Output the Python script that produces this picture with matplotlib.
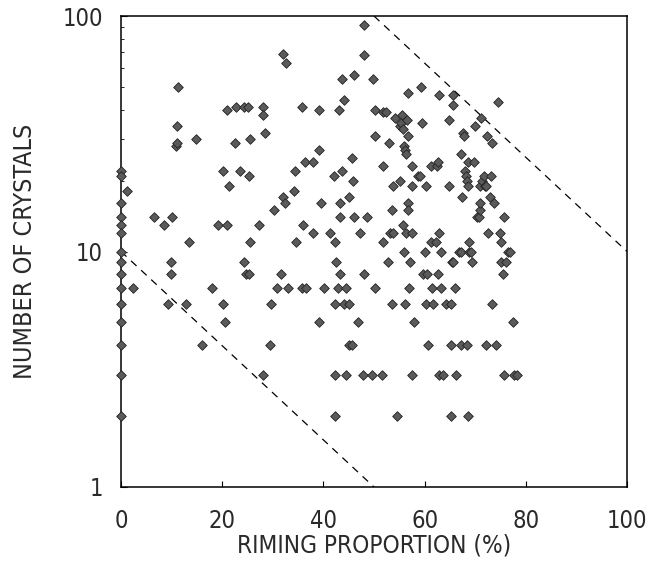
import matplotlib
matplotlib.use("Agg")
import matplotlib.pyplot as plt
from matplotlib import font_manager
from matplotlib.ticker import FixedLocator, LogLocator, NullFormatter

# Riming proportion (%) and number of crystals
riming = [0, 0, 0, 0, 0, 0, 0, 0, 0, 0, 0, 0, 0, 0, 0,
          1.1, 2.3, 6.6, 8.4, 10.1, 9.8, 9.8, 9.2, 11.3, 11.0, 10.8, 11.1, 14.8, 12.8, 13.5,
          16.0, 17.9, 19.1, 20.1, 20.9, 21.3, 21.0, 20.2, 20.5, 22.6, 22.8, 24.4, 25.1, 23.6,
          25.2, 25.4, 24.4, 24.8, 25.3, 25.5, 27.3, 28.1, 28.1, 28.5, 28.0, 29.4, 29.7, 30.3,
          30.9, 31.6, 32.1, 32.6, 32.1, 32.5, 33.0, 34.2, 34.3, 34.5, 35.7, 35.9, 35.8, 36.6,
          36.4, 38.0, 38.0, 39.1, 39.1, 39.6, 39.2, 40.2, 41.3, 42.2, 42.0, 42.4, 42.3, 42.3,
          42.3, 43.0, 43.6, 44.1, 43.3, 43.3, 43.2, 42.9, 43.7, 44.5, 44.1, 45.1, 44.4, 45.1,
          45.6, 45.9, 46.0, 46.1, 45.1, 45.7, 46.9, 47.3, 48.0, 48.0, 48.6, 48.1, 47.9, 49.6,
          49.8, 50.1, 50.1, 50.2, 51.6, 51.7, 51.8, 51.8, 52.3, 52.9, 52.8, 53.1, 53.7, 53.6,
          53.8, 53.6, 54.1, 54.5, 55.1, 55.1, 55.5, 55.4, 55.7, 55.9, 56.1, 56.3, 55.7, 56.0,
          56.1, 56.3, 56.5, 56.7, 56.7, 56.7, 56.7, 57.2, 57.0, 57.6, 57.6, 57.5, 57.6, 57.9,
          58.7, 59.0, 59.3, 59.4, 60.2, 60.1, 59.6, 60.5, 60.3, 60.6, 61.2, 61.2, 61.5, 61.6,
          62.3, 62.5, 62.6, 62.6, 62.9, 62.8, 63.2, 63.3, 62.9, 63.6, 64.3, 64.8, 64.9, 65.3,
          65.4, 65.7, 65.3, 65.3, 65.7, 65.7, 66.0, 66.2, 66.7, 67.2, 67.1, 67.2, 67.4, 67.6,
          67.8, 68.0, 68.2, 68.4, 68.5, 68.6, 68.4, 68.6, 68.8, 68.8, 69.2, 69.4, 69.7, 69.9,
          70.4, 70.8, 71.0, 71.0, 71.1, 70.9, 71.3, 71.7, 71.9, 72.2, 72.4, 72.5, 72.1, 73.2,
          73.0, 73.3, 73.3, 73.8, 74.1, 74.5, 74.9, 75.0, 75.0, 75.4, 75.7, 76.1, 76.4, 76.8,
          77.5, 75.7, 77.6, 78.3]
crystals = [22, 21, 16, 14, 13, 12, 10, 9, 8, 7, 6, 5, 4, 3, 2,
            18, 7, 14, 13, 14, 9, 8, 6, 50, 34, 28, 29, 30, 6, 11,
            4, 7, 13, 22, 40, 19, 13, 6, 5, 29, 41, 41, 41, 22,
            21, 30, 9, 8, 8, 11, 13, 41, 38, 32, 3, 4, 6, 15,
            7, 8, 69, 63, 17, 16, 7, 18, 22, 11, 41, 13, 7, 7,
            24, 24, 12, 27, 40, 16, 5, 7, 12, 11, 21, 9, 6, 3,
            2, 40, 54, 44, 16, 14, 8, 7, 22, 7, 6, 6, 3, 17,
            25, 20, 56, 14, 4, 4, 5, 12, 92, 68, 14, 8, 3, 3,
            54, 40, 31, 7, 3, 23, 11, 39, 39, 29, 9, 12, 12, 15,
            19, 6, 37, 2, 20, 34, 38, 35, 33, 28, 27, 26, 13, 10,
            6, 12, 36, 31, 47, 16, 15, 9, 7, 12, 23, 19, 3, 5,
            21, 21, 50, 35, 19, 10, 8, 8, 6, 4, 23, 11, 7, 6,
            11, 23, 24, 8, 12, 46, 7, 10, 3, 3, 6, 36, 19, 6,
            9, 9, 4, 2, 46, 42, 7, 3, 10, 10, 4, 26, 17, 32,
            31, 22, 21, 20, 24, 19, 4, 2, 11, 10, 10, 9, 24, 34,
            14, 14, 15, 16, 37, 19, 20, 21, 19, 19, 31, 12, 4, 21,
            17, 29, 6, 16, 4, 43, 12, 11, 9, 8, 14, 9, 10, 10,
            5, 3, 3, 3]

# Dashed boundary lines (endpoints in data units)
lower_x = [0, 50]
lower_y = [10, 1]
upper_x = [50, 100]
upper_y = [100, 10]

x_ticks = [0, 20, 40, 60, 80, 100]
y_ticks = [1, 10, 100]

names = {f.name for f in font_manager.fontManager.ttflist}
if "Liberation Sans Narrow" in names:
    font = dict(family="Liberation Sans Narrow")
else:
    font = dict(family="DejaVu Sans", stretch="condensed")
text_color = "#2a2a2a"

fig = plt.figure(figsize=(6.49, 5.65), dpi=100)
ax = fig.add_axes([121 / 649, 1 - 487 / 565, 506 / 649, 471 / 565])

ax.plot(lower_x, lower_y, color="black", lw=0.9, ls=(0, (6, 5)))
ax.plot(upper_x, upper_y, color="black", lw=0.9, ls=(0, (6, 5)))
ax.scatter(riming, crystals, marker="D", s=24, facecolor="#5a5a5a",
           edgecolor="#222222", linewidth=0.6, zorder=3, clip_on=False)

ax.set_yscale("log")
ax.set_xlim(0, 100)
ax.set_ylim(1, 100)
ax.xaxis.set_major_locator(FixedLocator(x_ticks))
ax.yaxis.set_major_locator(FixedLocator(y_ticks))
ax.set_xticklabels([str(v) for v in x_ticks], **font)
ax.set_yticklabels([str(v) for v in y_ticks], **font)
ax.yaxis.set_minor_locator(LogLocator(base=10, subs=range(2, 10)))
ax.yaxis.set_minor_formatter(NullFormatter())

ax.tick_params(axis="both", which="major", direction="in", length=4, width=0.8,
               labelsize=17, labelcolor=text_color)
ax.tick_params(axis="x", which="major", pad=16)
ax.tick_params(axis="y", which="major", pad=13)
ax.tick_params(axis="y", which="minor", direction="in", length=2.5, width=0.6)
for sp in ax.spines.values():
    sp.set_linewidth(1.1)

ax.set_xlabel("RIMING PROPORTION (%)", fontsize=17.5, labelpad=0, color=text_color, **font)
ax.set_ylabel("NUMBER OF CRYSTALS", fontsize=18, labelpad=18, color=text_color, **font)

fig.savefig("out.png", dpi=100)
